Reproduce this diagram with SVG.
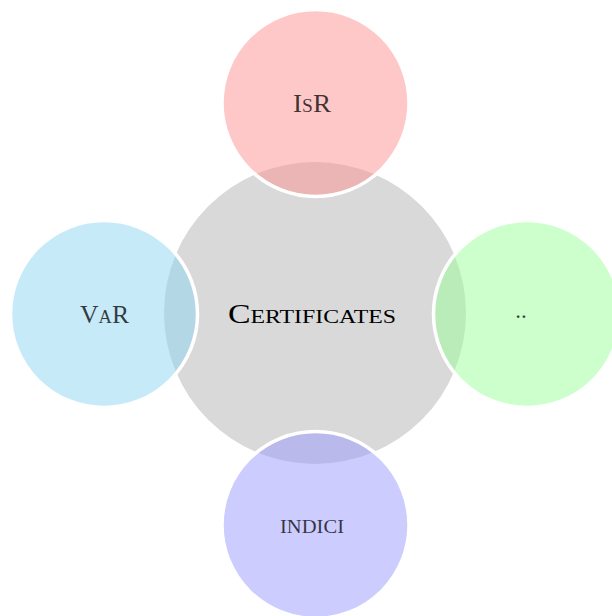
<svg xmlns="http://www.w3.org/2000/svg" width="612" height="616" viewBox="0 0 612 616">
<style>
.sat{stroke:#fff;stroke-width:3.5;fill-opacity:0.5}
.lbl{font-family:"Liberation Serif","DejaVu Serif",serif;font-variant:small-caps;text-anchor:middle;fill:#000}
.sl{fill-opacity:0.75}
</style>
<rect width="612" height="616" fill="#fff"/>
<g id="center">
<circle cx="315" cy="313" r="151" fill="#d9d9d9"/>
<text class="lbl" x="312" y="323" font-size="27" textLength="168" lengthAdjust="spacingAndGlyphs">Certificates</text>
</g>
<g id="isr">
<circle class="sat" cx="315.5" cy="103" r="93.5" fill="#ff9191"/>
<text class="lbl sl" x="312" y="112" font-size="25" textLength="38" lengthAdjust="spacingAndGlyphs">IsR</text>
</g>
<g id="var">
<circle class="sat" cx="104" cy="314" r="93.5" fill="#8fd5f3"/>
<text class="lbl sl" x="104.5" y="323" font-size="25" textLength="49" lengthAdjust="spacingAndGlyphs">VaR</text>
</g>
<g id="dots">
<circle class="sat" cx="527" cy="314" r="93.5" fill="#99ff99"/>
<text class="lbl sl" x="521" y="318" font-size="23">..</text>
</g>
<g id="indici">
<circle class="sat" cx="315.5" cy="525" r="93.5" fill="#9999ff"/>
<text class="lbl sl" x="312" y="533" font-size="25" textLength="64" lengthAdjust="spacingAndGlyphs">indici</text>
</g>
<g id="connectors"/>
</svg>
